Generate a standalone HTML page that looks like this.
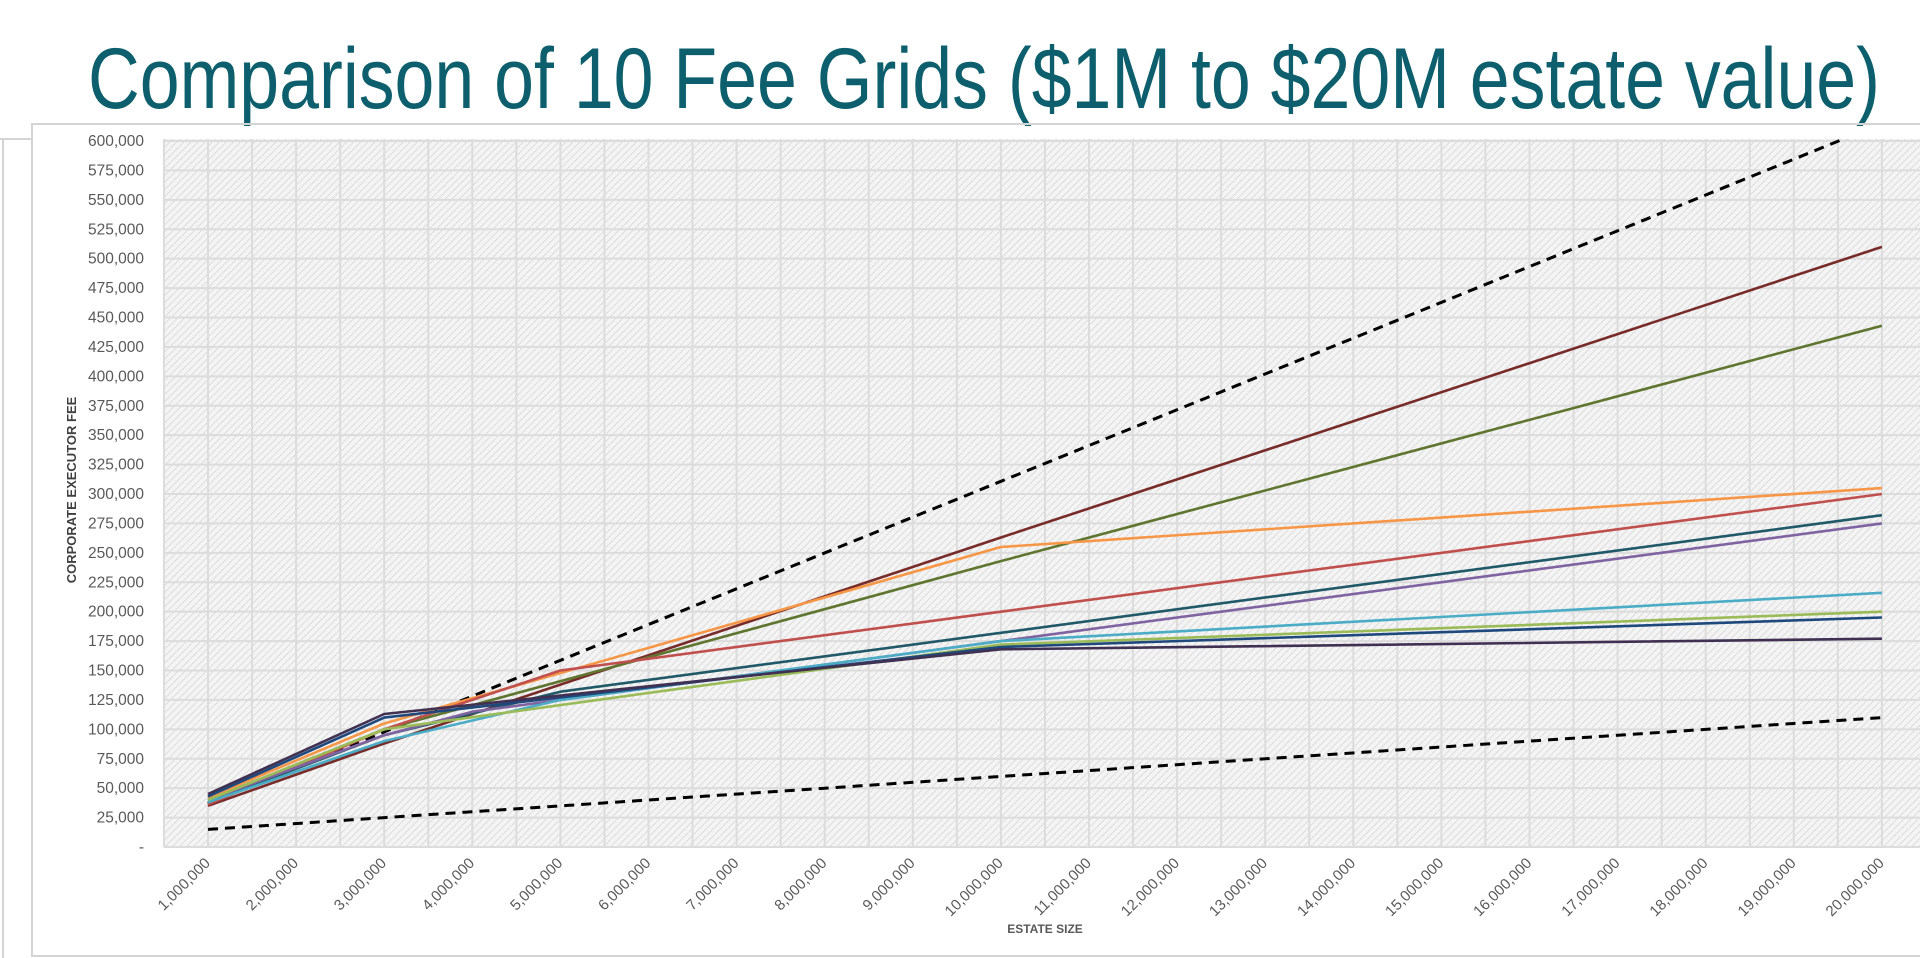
<!DOCTYPE html>
<html><head><meta charset="utf-8">
<style>
html,body{margin:0;padding:0;background:#fff;width:1920px;height:958px;overflow:hidden}
svg{display:block}
</style></head>
<body>
<svg id="chart" width="1920" height="958" viewBox="0 0 1920 958" xmlns="http://www.w3.org/2000/svg">
<defs>
<pattern id="hatch" width="5" height="5" patternUnits="userSpaceOnUse" patternTransform="rotate(45)">
<rect width="5" height="5" fill="#f4f4f4"/>
<line x1="0" y1="0" x2="0" y2="5" stroke="#d6d6d6" stroke-width="1.6"/>
</pattern>
<clipPath id="plotclip"><rect x="164" y="139" width="1756" height="710"/></clipPath>
</defs>
<text x="88" y="108" textLength="1792" lengthAdjust="spacingAndGlyphs" font-family="Liberation Sans, sans-serif" font-size="86" fill="#0d5f6d">Comparison of 10 Fee Grids ($1M to $20M estate value)</text>
<g fill="none" stroke="#d4d4d4" stroke-width="2">
<polyline points="1920,124 32,124 32,956 1920,956"/>
<polyline points="0,139 32,139"/>
<line x1="3" y1="139" x2="3" y2="958"/>
</g>
<rect x="164" y="139" width="1756" height="708" fill="url(#hatch)"/>
<g id="grid"></g>
<g id="yticks"></g>
<g id="xticks"></g>
<g id="series" clip-path="url(#plotclip)"></g>
<text transform="translate(76,490) rotate(-90)" text-anchor="middle" font-family="Liberation Sans Narrow, Liberation Sans, sans-serif" font-weight="bold" font-size="13" fill="#404040">CORPORATE EXECUTOR FEE</text>
<text x="1045" y="933" text-anchor="middle" font-family="Liberation Sans, sans-serif" font-weight="bold" font-size="12" fill="#595959">ESTATE SIZE</text>
</svg>
<script>
const categories = [1,2,3,4,5,6,7,8,9,10,11,12,13,14,15,16,17,18,19,20]; // millions
const yTicks = [0,25000,50000,75000,100000,125000,150000,175000,200000,225000,250000,275000,300000,325000,350000,375000,400000,425000,450000,475000,500000,525000,550000,575000,600000];
const seriesNames = ["upper-bound","lower-bound","maroon","olive","orange","red","teal","purple","light-blue","light-green","navy","dark-purple"];
const seriesColors = ["#000","#000","#772c2a","#5f7530","#f79646","#c0504d","#215968","#8064a2","#4bacc6","#9bbb59","#1f497d","#403152"];
const seriesX = [
 [1,20],[1,20],
 [1,3,10,20],[1,3,10,20],[1,3,10,20],[1,3,5,10,20],[1,3,5,10,20],[1,3,4,10,20],[1,3,5,10,20],[1,3,10,20],[1,3,10,20],[1,3,10,20]
];
const seriesY = [
 [37000,615000],[15000,110000],
 [35000,88000,263000,510000],
 [40000,100000,243000,443000],
 [42000,105000,255000,305000],
 [36000,100000,150000,200000,300000],
 [38000,95000,132000,182000,282000],
 [40000,95000,115000,175000,275000],
 [38000,90000,125000,175000,216000],
 [40000,100000,172000,200000],
 [43000,110000,170000,195000],
 [45000,113000,168000,177000]
];
const NS="http://www.w3.org/2000/svg";
const X0=208, XS=88.1, Y0=847, YTOP=141, YMAX=600000;
function xs(m){return X0+(m-1)*XS;}
function ys(v){return Y0-(v/YMAX)*(Y0-YTOP);}
function mk(tag,attrs,parent){const e=document.createElementNS(NS,tag);for(const k in attrs)e.setAttribute(k,attrs[k]);parent.appendChild(e);return e;}
function fmt(v){return v===0?"-":v.toLocaleString("en-US");}
const grid=document.getElementById("grid");
yTicks.forEach(v=>{
 const l=mk("line",{x1:164,x2:1920,y1:ys(v),y2:ys(v),stroke:"#dcdcdc","stroke-width":2},grid);
 
 
});
for(let m=0.5;m<=20.6;m+=0.5){
 const l=mk("line",{x1:xs(m),x2:xs(m),y1:139,y2:847,stroke:"#dcdcdc","stroke-width":2},grid);
 
 
}
const yt=document.getElementById("yticks");
yTicks.forEach(v=>{
 const t=mk("text",{x:144,y:ys(v)+5,"text-anchor":"end","font-family":"Liberation Sans, sans-serif","font-size":15.5,fill:"#595959"},yt);
 t.textContent=fmt(v);
 
 
});
const xt=document.getElementById("xticks");
categories.forEach(m=>{
 const x=xs(m)+3, y=864;
 const t=mk("text",{x:x,y:y,"text-anchor":"end","font-family":"Liberation Sans, sans-serif","font-size":15,fill:"#595959",transform:`rotate(-45 ${x} ${y})`},xt);
 t.textContent=(m*1000000).toLocaleString("en-US");
 
 
});
const sg=document.getElementById("series");
seriesNames.forEach((n,i)=>{
 const pts=seriesX[i].map((m,j)=>xs(m).toFixed(1)+","+ys(seriesY[i][j]).toFixed(1)).join(" ");
 const dashed=i<2;
 const p=mk("polyline",{points:pts,fill:"none",stroke:seriesColors[i],"stroke-width":dashed?3:2.6,"stroke-linejoin":"round"},sg);
 if(dashed)p.setAttribute("stroke-dasharray","10 7");
 
 
});
</script>
</body></html>
